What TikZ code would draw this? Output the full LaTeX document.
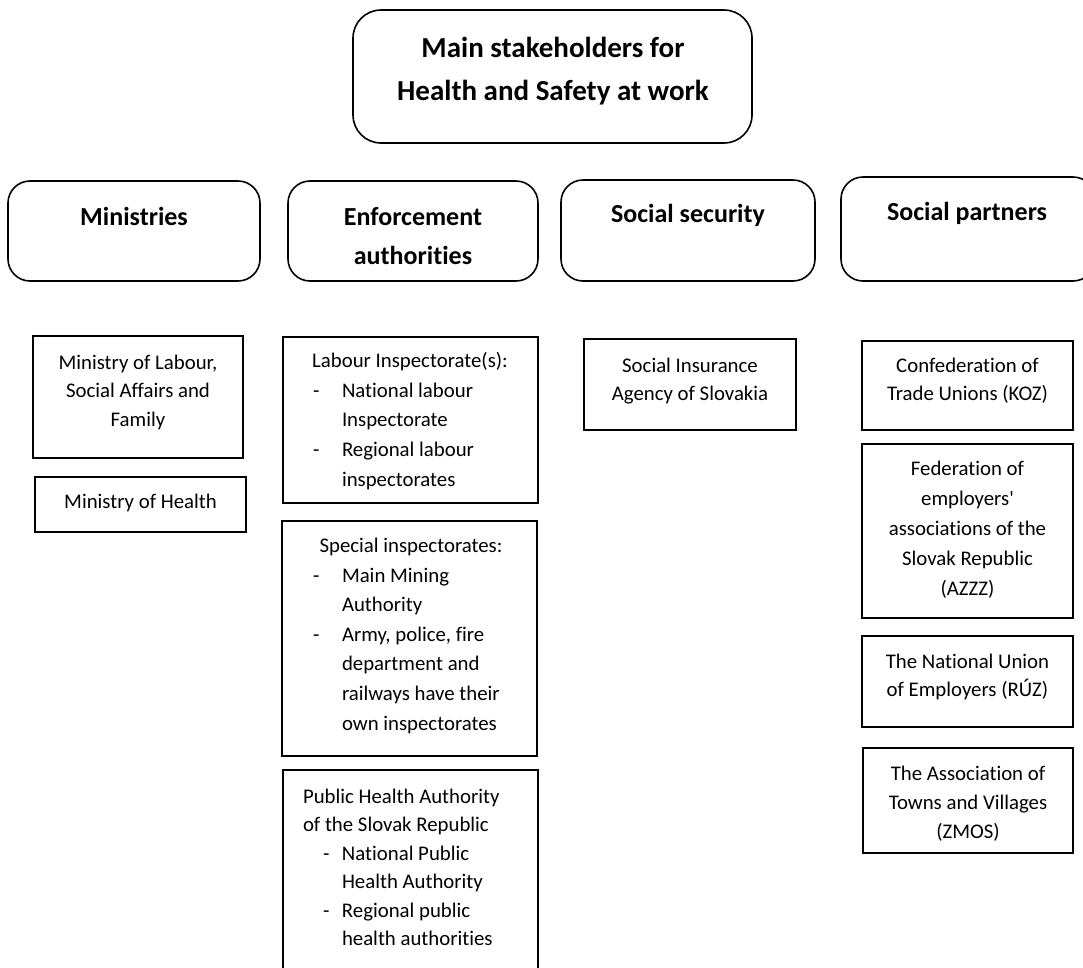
\documentclass[tikz,border=0pt]{standalone}
\usepackage{fontspec}
\setmainfont{Carlito}[Ligatures={TeXOff,NoCommon}]
\newcommand{\bodyfont}{\fontsize{20.8}{28.5}\selectfont}
\newcommand{\bodyfontw}{\fontsize{20.8}{29.8}\selectfont}
\newcommand{\headfont}{\fontsize{26}{39}\selectfont\bfseries}
\newcommand{\titlefont}{\fontsize{29}{43}\selectfont\bfseries}
\newcommand{\bs}{\rule{0pt}{17pt}}
\newcommand{\hs}{\rule{0pt}{21pt}}
\newcommand{\ts}{\rule{0pt}{23pt}}
\newcommand{\dash}[1]{\makebox[#1][l]{-}}
\begin{document}
\begin{tikzpicture}[x=1pt,y=-1pt,
  catbox/.style={draw, line width=1.6pt, rounded corners=22pt, inner sep=0pt, outer sep=0pt},
  titlebox/.style={catbox, rounded corners=28pt},
  itembox/.style={draw, line width=1.6pt, inner sep=0pt, outer sep=0pt},
  txt/.style={inner sep=0pt, outer sep=0pt, font=\bodyfont, align=center, anchor=north},
  ltxt/.style={txt, align=left, anchor=north west},
  head/.style={txt, font=\headfont}]
\useasboundingbox (0,0) rectangle (1083,967);
\clip (0,0) rectangle (1083,967);
\fill[white] (0,0) rectangle (1083,967);
% boxes
\node[titlebox, minimum width=399pt, minimum height=133pt] (title) at (552.5,76.5) {};
\node[catbox, minimum width=252pt, minimum height=100pt] (minis) at (134,231) {};
\node[catbox, minimum width=250pt, minimum height=100pt] (enfor) at (413,231) {};
\node[catbox, minimum width=254pt, minimum height=101pt] (socsec) at (688,230.5) {};
\node[catbox, minimum width=254pt, minimum height=104pt] (socpar) at (968,229) {};
\node[itembox, minimum width=210pt, minimum height=122pt] (mlab) at (138,397) {};
\node[itembox, minimum width=211pt, minimum height=55pt] (mhea) at (140.5,504.5) {};
\node[itembox, minimum width=255pt, minimum height=166pt] (labins) at (410.5,420) {};
\node[itembox, minimum width=255pt, minimum height=235pt] (spec) at (409.5,638.5) {};
\node[itembox, minimum width=255pt, minimum height=225pt] (pha) at (410.5,882.5) {};
\node[itembox, minimum width=212pt, minimum height=91pt] (sia) at (690,384.5) {};
\node[itembox, minimum width=211pt, minimum height=89pt] (koz) at (967.5,385.5) {};
\node[itembox, minimum width=211pt, minimum height=174pt] (azzz) at (967.5,531) {};
\node[itembox, minimum width=211pt, minimum height=91pt] (ruz) at (967.5,681.5) {};
\node[itembox, minimum width=210pt, minimum height=105pt] (zmos) at (968,800.5) {};
% texts
\node[txt, font=\titlefont] (ttitle) at (553,34) {\ts Main stakeholders for\\Health and Safety at work};
\node[head] (tminis) at (134,204) {\hs Ministries};
\node[head] (tenfor) at (413,204) {\hs Enforcement\\authorities};
\node[head] (tsocsec) at (688,201) {\hs Social security};
\node[head] (tsocpar) at (967,199) {\hs Social partners};
\node[txt] (tmlab) at (138,352) {\bs Ministry of Labour,\\Social Affairs and\\Family};
\node[txt] (tmhea) at (140.5,491) {\bs Ministry of Health};
\node[txt] (tlabins) at (410,350) {\bs Labour Inspectorate(s):};
\node[ltxt, font=\bodyfontw] (llabins) at (313,380) {\bs\dash{29pt}National labour\\\hspace*{29pt}Inspectorate\\\dash{29pt}Regional labour\\\hspace*{29pt}inspectorates};
\node[txt] (tspec) at (411,535) {\bs Special inspectorates:};
\node[ltxt, font=\fontsize{20.8}{29.6}\selectfont] (lspec) at (313,565) {\bs\dash{29pt}Main Mining\\\hspace*{29pt}Authority\\\dash{29pt}Army, police, fire\\\hspace*{29pt}department and\\\hspace*{29pt}railways have their\\\hspace*{29pt}own inspectorates};
\node[ltxt] (lpha) at (303,786) {\bs Public Health Authority\\of the Slovak Republic\\\hspace*{20pt}\dash{19pt}National Public\\\hspace*{39pt}Health Authority\\\hspace*{20pt}\dash{19pt}Regional public\\\hspace*{39pt}health authorities};
\node[txt] (tsia) at (690,355) {\bs Social Insurance\\Agency of Slovakia};
\node[txt] (tkoz) at (967.5,355) {\bs Confederation of\\Trade Unions (KOZ)};
\node[txt, font=\fontsize{20.8}{30}\selectfont] (tazzz) at (967.5,458) {\bs Federation of\\employers'\\associations of the\\Slovak Republic\\(AZZZ)};
\node[txt] (truz) at (967.5,651) {\bs The National Union\\of Employers (RÚZ)};
\node[txt, font=\fontsize{20.8}{29}\selectfont] (tzmos) at (968,763) {\bs The Association of\\Towns and Villages\\(ZMOS)};
\end{tikzpicture}
\end{document}
